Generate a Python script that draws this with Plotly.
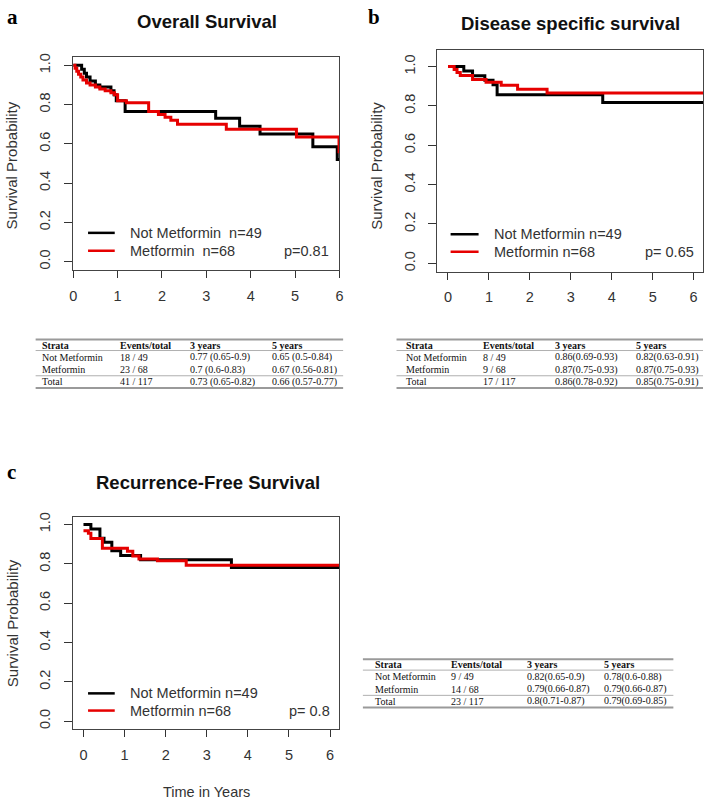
import plotly.graph_objects as go

W, H = 709, 800

# ---------------- data ----------------
years_ticks = [0, 1, 2, 3, 4, 5, 6]
prob_ticks = [0.0, 0.2, 0.4, 0.6, 0.8, 1.0]
prob_ticktext = ["0.0", "0.2", "0.4", "0.6", "0.8", "1.0"]

# Overall survival
os_nm_t = [0, 0.19, 0.25, 0.30, 0.38, 0.50, 0.60, 0.85, 0.92, 0.97, 1.17, 3.21, 3.75, 4.21, 5.40, 5.95, 6.3]
os_nm_s = [1.0, 0.98, 0.96, 0.94, 0.92, 0.90, 0.89, 0.87, 0.85, 0.82, 0.765, 0.73, 0.69, 0.65, 0.585, 0.52, 0.52]
os_m_t = [0, 0.04, 0.08, 0.12, 0.17, 0.22, 0.30, 0.38, 0.50, 0.60, 0.72, 0.85, 0.93, 1.0, 1.2, 1.7, 1.92, 2.07, 2.2, 2.35, 3.45, 5.03, 5.99, 6.3]
os_m_s = [1.0, 0.985, 0.97, 0.955, 0.94, 0.925, 0.91, 0.90, 0.89, 0.88, 0.87, 0.86, 0.85, 0.82, 0.81, 0.765, 0.75, 0.735, 0.72, 0.70, 0.675, 0.635, 0.56, 0.56]

# Disease specific survival
dss_nm_t = [0, 0.386, 0.60, 0.90, 1.10, 1.20, 3.78, 6.5]
dss_nm_s = [1.0, 0.978, 0.953, 0.93, 0.908, 0.857, 0.817, 0.817]
dss_m_t = [0, 0.15, 0.22, 0.30, 0.60, 0.93, 1.30, 1.70, 2.42, 6.5]
dss_m_s = [1.0, 0.985, 0.97, 0.955, 0.934, 0.92, 0.905, 0.885, 0.865, 0.865]

# Recurrence-free survival
rfs_nm_t = [0, 0.18, 0.40, 0.50, 0.69, 0.905, 1.39, 3.60, 6.5]
rfs_nm_s = [1.0, 0.977, 0.93, 0.909, 0.866, 0.842, 0.82, 0.781, 0.781]
rfs_m_t = [0, 0.12, 0.18, 0.46, 1.07, 1.20, 1.35, 1.80, 2.50, 6.5]
rfs_m_s = [0.968, 0.955, 0.929, 0.879, 0.864, 0.84, 0.825, 0.815, 0.792, 0.792]

# Tables
tbl_header = ["Strata", "Events/total", "3 years", "5 years"]
tbl_strata = ["Not Metformin", "Metformin", "Total"]
os_events = ["18 / 49", "23 / 68", "41 / 117"]
os_3y = ["0.77 (0.65-0.9)", "0.7 (0.6-0.83)", "0.73 (0.65-0.82)"]
os_5y = ["0.65 (0.5-0.84)", "0.67 (0.56-0.81)", "0.66 (0.57-0.77)"]
dss_events = ["8 / 49", "9 / 68", "17 / 117"]
dss_3y = ["0.86(0.69-0.93)", "0.87(0.75-0.93)", "0.86(0.78-0.92)"]
dss_5y = ["0.82(0.63-0.91)", "0.87(0.75-0.93)", "0.85(0.75-0.91)"]
rfs_events = ["9 / 49", "14 / 68", "23 / 117"]
rfs_3y = ["0.82(0.65-0.9)", "0.79(0.66-0.87)", "0.8(0.71-0.87)"]
rfs_5y = ["0.78(0.6-0.88)", "0.79(0.66-0.87)", "0.79(0.69-0.85)"]

titles = ["Overall Survival", "Disease specific survival", "Recurrence-Free Survival"]
letters = ["a", "b", "c"]
legend_nm = ["Not Metformin\u00a0 n=49", "Not Metformin n=49", "Not Metformin n=49"]
legend_m = ["Metformin\u00a0 n=68", "Metformin n=68", "Metformin n=68"]
pvals = ["p=0.81", "p= 0.65", "p= 0.8"]

# ---------------- layout helpers ----------------
def fx(p):
    return p / W

def fy(p):
    return 1 - p / H

SANS = "Liberation Sans, Arial, sans-serif"
SERIF = "Liberation Serif, Times New Roman, serif"
TXT = "#333333"
BLACK = "#000000"
RED = "#e60000"

panels = [
    dict(sfx="", dx=(70, 339.3), dy=(52, 267), xr=[0, 6], yr=[-0.044, 1.044],
         curves=[(os_nm_t, os_nm_s, BLACK), (os_m_t, os_m_s, RED)],
         title_xy=(205, 16.5), letter_xy=(9, 12), ylab_xy=(8.5, 161),
         leg_x=(85, 112, 125.7), leg_y=(229.3, 247.3), p_x=331),
    dict(sfx="2", dx=(438.3, 707), dy=(45.7, 268.3), xr=[-0.26, 6.23], yr=[-0.042, 1.082],
         curves=[(dss_nm_t, dss_nm_s, BLACK), (dss_m_t, dss_m_s, RED)],
         title_xy=(573, 18.5), letter_xy=(374, 12), ylab_xy=(377, 162),
         leg_x=(451.7, 480, 493.3), leg_y=(230.7, 248.3), p_x=700),
    dict(sfx="3", dx=(70, 339.3), dy=(515, 729), xr=[-0.25, 6.23], yr=[-0.042, 1.039],
         curves=[(rfs_nm_t, rfs_nm_s, BLACK), (rfs_m_t, rfs_m_s, RED)],
         title_xy=(206, 481), letter_xy=(8, 470), ylab_xy=(8.5, 621.7),
         leg_x=(85, 112, 125), leg_y=(692.7, 710), p_x=331.7),
]

fig = go.Figure()
shapes = []
annotations = []
layout_axes = {}

for i, pn in enumerate(panels):
    s = pn["sfx"]
    xname, yname = "x" + s, "y" + s
    for t, v, col in pn["curves"]:
        fig.add_trace(go.Scatter(x=t, y=v, mode="lines",
                                 line=dict(shape="hv", color=col, width=3),
                                 xaxis=xname, yaxis=yname, showlegend=False,
                                 hoverinfo="skip"))
    layout_axes["xaxis" + s] = dict(
        domain=[fx(pn["dx"][0]), fx(pn["dx"][1])], range=pn["xr"], anchor=yname,
        tickvals=years_ticks, ticktext=[str(v) for v in years_ticks],
        ticks="outside", ticklen=7, tickwidth=1, tickcolor=TXT,
        showline=True, linecolor="#444444", linewidth=1, mirror=True,
        showgrid=False, zeroline=False, ticklabelstandoff=5,
        tickfont=dict(family=SANS, size=14.5, color=TXT), fixedrange=True)
    layout_axes["yaxis" + s] = dict(
        domain=[fy(pn["dy"][1]), fy(pn["dy"][0])], range=pn["yr"], anchor=xname,
        tickvals=prob_ticks, ticktext=prob_ticktext, tickangle=-90,
        ticks="outside", ticklen=8, tickwidth=1, tickcolor=TXT,
        showline=True, linecolor="#444444", linewidth=1, mirror=True,
        showgrid=False, zeroline=False, ticklabelstandoff=8,
        tickfont=dict(family=SANS, size=14.5, color=TXT), fixedrange=True)

    # title and letter
    annotations.append(dict(text="<b>%s</b>" % titles[i], x=fx(pn["title_xy"][0]), y=fy(pn["title_xy"][1]),
                            xref="paper", yref="paper", xanchor="center", yanchor="middle",
                            showarrow=False, font=dict(family=SANS, size=18.5, color="#111111")))
    annotations.append(dict(text="<b>%s</b>" % letters[i], x=fx(pn["letter_xy"][0]), y=fy(pn["letter_xy"][1]),
                            xref="paper", yref="paper", xanchor="center", yanchor="middle",
                            showarrow=False, font=dict(family=SERIF, size=21, color="#000000")))
    annotations.append(dict(text="Survival Probability", x=fx(pn["ylab_xy"][0]), y=fy(pn["ylab_xy"][1]),
                            xref="paper", yref="paper", xanchor="center", yanchor="middle", textangle=-90,
                            showarrow=False, font=dict(family=SANS, size=15, color=TXT)))
    # legend
    lx0, lx1, tx = pn["leg_x"]
    for ly, col, lab in [(pn["leg_y"][0], BLACK, legend_nm[i]), (pn["leg_y"][1], RED, legend_m[i])]:
        shapes.append(dict(type="line", xref="paper", yref="paper", x0=fx(lx0), x1=fx(lx1),
                           y0=fy(ly), y1=fy(ly), line=dict(color=col, width=2.5)))
        annotations.append(dict(text=lab, x=fx(tx), y=fy(ly), xref="paper", yref="paper",
                                xanchor="left", yanchor="middle", showarrow=False,
                                font=dict(family=SANS, size=14.5, color=TXT)))
    annotations.append(dict(text=pvals[i], x=fx(pn["p_x"]), y=fy(pn["leg_y"][1]), xref="paper", yref="paper",
                            xanchor="right", yanchor="middle", showarrow=False,
                            font=dict(family=SANS, size=14.5, color=TXT)))

# x-axis title only on panel c
annotations.append(dict(text="Time in Years", x=fx(205), y=fy(792), xref="paper", yref="paper",
                        xanchor="center", yanchor="middle", showarrow=False,
                        font=dict(family=SANS, size=14.5, color=TXT)))

# ---------------- tables ----------------
tables = [
    dict(cols=(36, 115, 186, 269), line=(32, 343), top=336.7, events=os_events, y3=os_3y, y5=os_5y),
    dict(cols=(405, 482, 555, 637), line=(397, 707), top=336.7, events=dss_events, y3=dss_3y, y5=dss_5y),
    dict(cols=(373, 450, 527, 605), line=(363, 677), top=658.3, events=rfs_events, y3=rfs_3y, y5=rfs_5y),
]
ROW = 12.3
for tb in tables:
    top = tb["top"]
    xl0, xl1 = tb["line"]
    row_y = [top + 5.5 + ROW * k for k in range(4)]
    lines_y = [(top, 2.0), (top + 11, 0.8), (row_y[2] + 6.3, 0.8), (row_y[3] + 6.3, 2.0)]
    for ly, lw in lines_y:
        shapes.append(dict(type="line", xref="paper", yref="paper", x0=fx(xl0), x1=fx(xl1),
                           y0=fy(ly), y1=fy(ly), line=dict(color="#9a9a9a", width=lw)))
    for c, h in enumerate(tbl_header):
        annotations.append(dict(text="<b>%s</b>" % h, x=fx(tb["cols"][c]), y=fy(row_y[0]),
                                xref="paper", yref="paper", xanchor="left", yanchor="middle",
                                showarrow=False, font=dict(family=SERIF, size=10, color="#111111")))
    for r in range(3):
        vals = [tbl_strata[r], tb["events"][r], tb["y3"][r], tb["y5"][r]]
        for c, v in enumerate(vals):
            annotations.append(dict(text=v, x=fx(tb["cols"][c]), y=fy(row_y[r + 1]),
                                    xref="paper", yref="paper", xanchor="left", yanchor="middle",
                                    showarrow=False, font=dict(family=SERIF, size=10, color="#111111")))

fig.update_layout(width=W, height=H, margin=dict(l=0, r=0, t=0, b=0),
                  paper_bgcolor="white", plot_bgcolor="white",
                  shapes=shapes, annotations=annotations, **layout_axes)

fig.write_html("out.html", config={"displayModeBar": False, "staticPlot": True},
               post_script="document.body.style.margin='0';document.body.style.padding='0';"
                           "document.body.style.overflow='hidden';")
